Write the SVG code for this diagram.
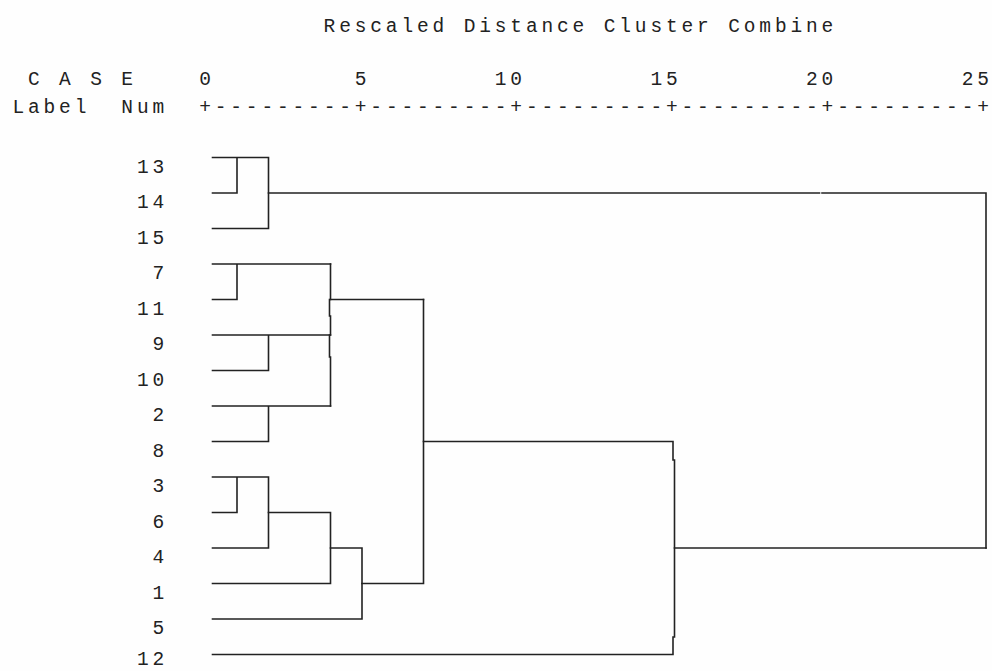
<svg xmlns="http://www.w3.org/2000/svg" width="992" height="671" viewBox="0 0 992 671">
<style>
text{font-family:"Liberation Mono","Courier New",monospace;font-size:19.5px;fill:#222;letter-spacing:3.86px;white-space:pre}
.c{fill:none;stroke:#222;stroke-width:1.6;stroke-linecap:square}
</style>
<rect width="992" height="671" fill="#fefefe"/>
<g id="header">
<text x="323.6" y="31.5" xml:space="preserve">Rescaled Distance Cluster Combine</text>
<text x="12.4" y="85" xml:space="preserve"> C A S E    0         5        10        15        20        25</text>
<text x="12.4" y="113" xml:space="preserve">Label  Num  +---------+---------+---------+---------+---------+</text>
</g>
<g id="leaf-13"><text x="136.9" y="172.5">13</text></g>
<g id="leaf-14"><text x="136.9" y="208">14</text></g>
<g id="leaf-15"><text x="136.9" y="243.5">15</text></g>
<g id="leaf-7"><text x="152.5" y="279">7</text></g>
<g id="leaf-11"><text x="136.9" y="314.5">11</text></g>
<g id="leaf-9"><text x="152.5" y="350">9</text></g>
<g id="leaf-10"><text x="136.9" y="385.5">10</text></g>
<g id="leaf-2"><text x="152.5" y="421">2</text></g>
<g id="leaf-8"><text x="152.5" y="456.5">8</text></g>
<g id="leaf-3"><text x="152.5" y="492">3</text></g>
<g id="leaf-6"><text x="152.5" y="527.5">6</text></g>
<g id="leaf-4"><text x="152.5" y="563">4</text></g>
<g id="leaf-1"><text x="152.5" y="598.5">1</text></g>
<g id="leaf-5"><text x="152.5" y="634">5</text></g>
<g id="leaf-12"><text x="136.9" y="665">12</text></g>
<g id="connectors" class="c">
<path d="M212.5,157.5H268.5M237,157.5V193M212.5,193H237M268.5,157.5V228.5M212.5,228.5H268.5"/>
<path d="M268.5,193H819.5M822,193H986V548"/>
<path d="M212.5,264H330.5M237,264V299.5M212.5,299.5H237"/>
<path d="M212.5,335H330.5M268.5,335V370.5M212.5,370.5H268.5"/>
<path d="M212.5,406H330.5M268.5,406V441.5M212.5,441.5H268.5"/>
<path d="M330.5,264V299.5M329.5,299.5V316M330.5,316V335M329.5,335V357M330.5,357V406"/>
<path d="M330.5,299.5H423.5"/>
<path d="M212.5,477H268.5M237,477V512.5M212.5,512.5H237M268.5,477V548M212.5,548H268.5"/>
<path d="M268.5,512.5H330.5V583.5M212.5,583.5H330.5"/>
<path d="M330.5,548H362V619M212.5,619H362"/>
<path d="M362,583.5H423.5M423.5,299.5V583.5"/>
<path d="M423.5,441.5H673V460M674.5,460V637M673,637V654.5M212.5,654.5H673"/>
<path d="M674.5,548H986"/>
</g>
</svg>
